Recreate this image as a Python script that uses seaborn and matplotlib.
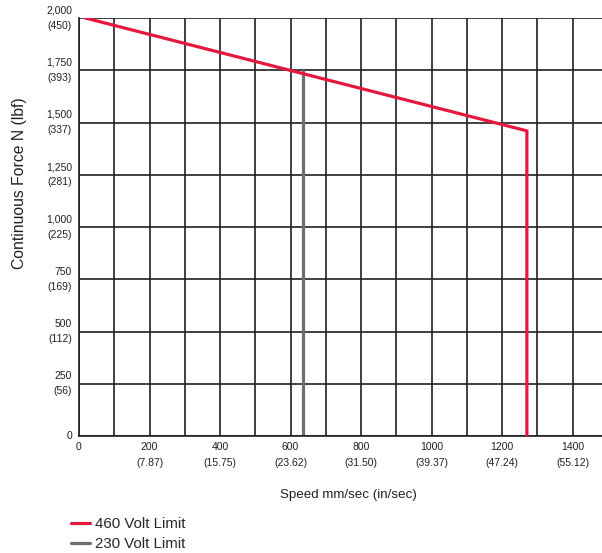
import pandas as pd
import matplotlib.pyplot as plt
import seaborn as sns

# values
speed_460 = [18, 1270, 1270]
force_460 = [2000, 1460, 0]
speed_230 = [636, 636]
force_230 = [1745, 0]

y_ticks = [0, 250, 500, 750, 1000, 1250, 1500, 1750, 2000]
y_labels = ["0", "250\n(56)", "500\n(112)", "750\n(169)", "1,000\n(225)",
            "1,250\n(281)", "1,500\n(337)", "1,750\n(393)", "2,000\n(450)"]
x_ticks = [0, 200, 400, 600, 800, 1000, 1200, 1400]
x_labels = ["0", "200\n(7.87)", "400\n(15.75)", "600\n(23.62)", "800\n(31.50)",
            "1000\n(39.37)", "1200\n(47.24)", "1400\n(55.12)"]

RED = "#E4173E"
GRAY = "#6D6E71"
DARK = "#231F20"

sns.set_style("white")
plt.rcParams["font.family"] = ["Liberation Sans", "DejaVu Sans"]

fig = plt.figure(figsize=(6.02, 5.53), dpi=100)
ax = fig.add_axes([79 / 602, 1 - 436 / 553, 1 - 79 / 602, (436 - 18) / 553])

df460 = pd.DataFrame({"speed": speed_460, "force": force_460})
df230 = pd.DataFrame({"speed": speed_230, "force": force_230})

# grid first so the data lines sit on top
for xv in range(0, 1500, 100):
    ax.axvline(xv, color=DARK, lw=1.2, zorder=1)
for yv in y_ticks:
    ax.axhline(yv, color=DARK, lw=1.2, zorder=1)

sns.lineplot(data=df460, x="speed", y="force", sort=False, estimator=None,
             color=RED, lw=2.3, ax=ax, label="460 Volt Limit", zorder=3,
             solid_joinstyle="miter")
sns.lineplot(data=df230, x="speed", y="force", sort=False, estimator=None,
             color=GRAY, lw=2.3, ax=ax, label="230 Volt Limit", zorder=2)

ax.set_xlim(0, 1483)
ax.set_ylim(0, 2000)
ax.set_xticks(x_ticks)
ax.set_xticklabels(x_labels, fontsize=7.5, color=DARK, linespacing=1.8)
ax.set_yticks(y_ticks)
ax.set_yticklabels(y_labels, fontsize=7.5, color=DARK, ha="right", va="center",
                   linespacing=1.65)
ax.tick_params(length=0)
ax.tick_params(axis="x", pad=4)
ax.tick_params(axis="y", pad=5)
for side in ["right", "top"]:
    ax.spines[side].set_visible(False)
for side in ["left", "bottom"]:
    ax.spines[side].set_color(DARK)
    ax.spines[side].set_linewidth(1.2)

ax.set_xlabel("Speed mm/sec (in/sec)", fontsize=9.6, color=DARK)
ax.xaxis.set_label_coords((348 - 79) / 523, (436 - 495) / 418)
ax.xaxis.label.set_va("center")
ax.set_ylabel("Continuous Force N (lbf)", fontsize=11.3, color=DARK)
ax.yaxis.set_label_coords((20 - 79) / 523, (436 - 183) / 418)
ax.yaxis.label.set_va("center")

ax.get_legend().remove()
handles, labels = ax.get_legend_handles_labels()
fig.legend(handles, labels, loc="lower left", bbox_to_anchor=(62 / 602, -7 / 553),
           frameon=False, fontsize=10.8, handlelength=1.25, handletextpad=0.35,
           labelspacing=0.38, borderaxespad=0.2)

plt.savefig("out.png", dpi=100)
plt.close()
